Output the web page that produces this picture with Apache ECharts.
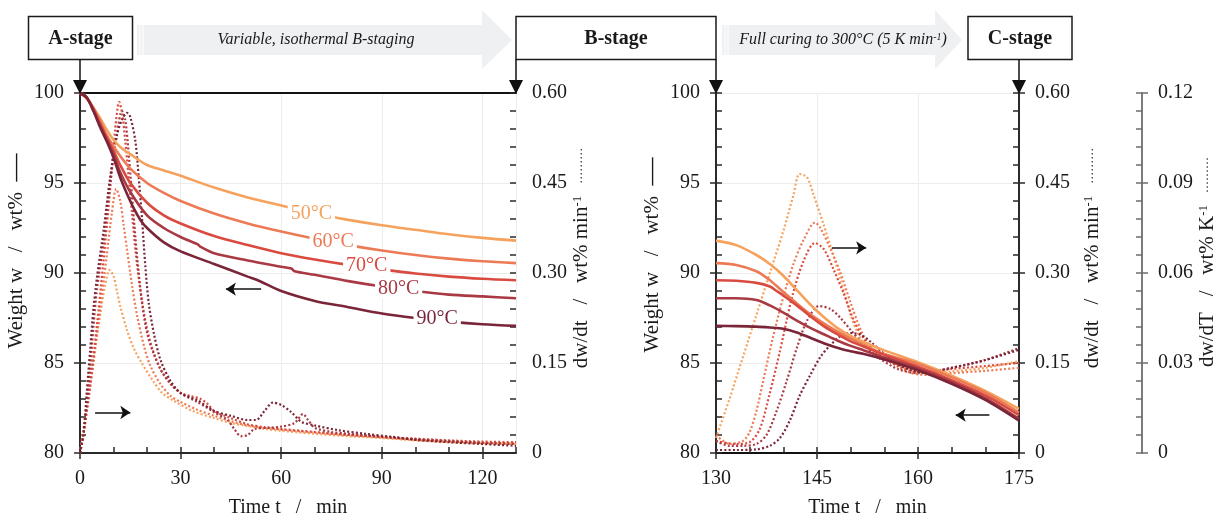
<!DOCTYPE html>
<html><head><meta charset="utf-8">
<script src="https://cdn.jsdelivr.net/npm/echarts@6/dist/echarts.min.js"></script>
<style>html,body{margin:0;padding:0;background:#fff}#c{width:1223px;height:518px}</style>
</head><body><div id="c"></div>
<script>
// ---------------- DATA ----------------
const temps = ['50°C', '60°C', '70°C', '80°C', '90°C'];
const colors = ['#F5A25D', '#EC7A55', '#D94B40', '#A93943', '#7A2538'];

// Panel 1 (isothermal B-staging): weight w [wt%] vs time t [min]
const w50L = [[0,100],[2,99.7],[4,99.2],[6,98.6],[8,97.95],[10,97.4],[12,97.0],[15,96.6],[20,96.0],[25,95.7],[30,95.4],[40,94.75],[50,94.2],[60,93.75],[70,93.3],[80,92.95],[90,92.65],[100,92.4],[110,92.15],[120,91.95],[130,91.8]];
const w60L = [[0,100],[2,99.7],[4,99.15],[6,98.45],[8,97.65],[10,97.05],[12,96.5],[15,95.8],[20,95.0],[25,94.45],[30,94.0],[40,93.3],[50,92.75],[60,92.3],[70,91.9],[80,91.55],[90,91.25],[100,91.0],[110,90.8],[120,90.65],[130,90.55]];
const w70L = [[0,100],[2,99.75],[4,99.1],[6,98.3],[8,97.5],[10,96.8],[12,96.0],[15,95.0],[20,93.9],[25,93.2],[30,92.75],[40,92.05],[50,91.55],[60,91.1],[70,90.75],[80,90.45],[90,90.2],[100,89.97],[110,89.8],[120,89.68],[130,89.6]];
const w80L = [[0,100],[2,99.75],[4,99.05],[6,98.2],[8,97.4],[10,96.6],[12,95.6],[15,94.5],[20,93.2],[25,92.5],[30,92.0],[35,91.6],[36,91.45],[40,91.1],[50,90.7],[60,90.35],[63,90.25],[64,90.1],[70,89.9],[80,89.55],[90,89.25],[100,89.0],[110,88.8],[120,88.7],[130,88.6]];
const w90L = [[0,100],[2,99.75],[4,99.0],[6,98.1],[8,97.3],[10,96.4],[12,95.3],[14,94.4],[16,93.6],[18,92.95],[20,92.5],[25,91.7],[30,91.2],[40,90.5],[50,89.8],[53,89.6],[60,89.0],[70,88.45],[80,88.1],[90,87.75],[100,87.5],[110,87.3],[120,87.15],[130,87.06]];

// Panel 1: mass-loss rate dw/dt [wt% min-1] vs time t [min]
const r50L = [[0,0],[1,0.04],[2,0.08],[4,0.16],[6,0.23],[7.5,0.28],[8.8,0.305],[10,0.295],[11,0.27],[12,0.245],[14,0.205],[16,0.175],[18.4,0.15],[21.8,0.12],[24.5,0.1],[27.7,0.088],[33.6,0.07],[40,0.058],[45,0.05],[50,0.045],[55,0.04],[60,0.037],[70,0.032],[80,0.028],[90,0.025],[100,0.021],[110,0.018],[120,0.016],[130,0.015]];
const r60L = [[0,0],[1,0.03],[2,0.07],[4,0.15],[6,0.24],[8,0.33],[9.5,0.4],[10.8,0.44],[12,0.42],[13,0.38],[14,0.34],[15.5,0.28],[17,0.23],[19,0.18],[21,0.145],[24,0.115],[27,0.095],[30,0.085],[35,0.072],[40,0.062],[45,0.053],[50,0.046],[60,0.039],[70,0.034],[80,0.03],[90,0.026],[100,0.022],[110,0.019],[120,0.017],[130,0.016]];
const r70L = [[0,0],[1,0.03],[3,0.11],[5,0.21],[7,0.32],[9,0.44],[10.5,0.54],[11.7,0.585],[12.6,0.565],[13.5,0.52],[14.5,0.46],[15.5,0.4],[16.5,0.34],[17.8,0.28],[19.5,0.22],[21.5,0.175],[24,0.14],[27,0.115],[30,0.1],[33,0.095],[36,0.09],[38,0.082],[40,0.07],[45,0.058],[50,0.048],[55,0.043],[60,0.04],[70,0.035],[80,0.03],[90,0.027],[100,0.024],[110,0.021],[120,0.019],[130,0.018]];
const r80L = [[0,0],[1,0.03],[2,0.08],[3,0.14],[4,0.21],[5,0.27],[7,0.35],[9,0.45],[11,0.53],[12.5,0.57],[13.5,0.555],[14.5,0.5],[15.5,0.43],[16.5,0.36],[17.5,0.3],[18.5,0.25],[20,0.2],[22,0.165],[25,0.13],[30,0.1],[35,0.085],[40,0.068],[44,0.055],[46,0.04],[48,0.028],[50,0.03],[52,0.04],[56,0.042],[60,0.044],[64,0.05],[66.5,0.065],[68,0.055],[70,0.042],[75,0.035],[80,0.032],[90,0.027],[100,0.023],[110,0.02],[120,0.017],[130,0.015]];
const r90L = [[0,0],[1,0.03],[2,0.1],[3,0.17],[4,0.24],[5,0.29],[7,0.37],[9,0.46],[11,0.53],[12.5,0.555],[14,0.567],[15,0.56],[16.5,0.52],[17.5,0.46],[18.5,0.39],[19.5,0.31],[20.5,0.25],[22,0.2],[24,0.155],[27,0.12],[30,0.1],[35,0.088],[40,0.07],[45,0.062],[50,0.055],[52.5,0.055],[55,0.07],[57.5,0.084],[60,0.08],[63,0.068],[66,0.052],[70,0.046],[77,0.038],[85,0.032],[93,0.027],[100,0.022],[110,0.018],[120,0.015],[130,0.012]];

// Panel 2 (full curing): weight w [wt%] vs time t [min]
const w50R = [[130,91.8],[133,91.55],[136,91.0],[138,90.5],[140,89.85],[142,89.05],[144,88.25],[146,87.55],[148,86.95],[150,86.5],[152,86.15],[155,85.7],[160,85.05],[165,84.3],[170,83.45],[175,82.45]];
const w60R = [[130,90.55],[133,90.45],[136,90.1],[138,89.6],[140,88.95],[142,88.3],[144,87.7],[146,87.2],[148,86.75],[150,86.35],[152,86.0],[155,85.5],[160,84.95],[165,84.2],[170,83.35],[175,82.25]];
const w70R = [[130,89.6],[133,89.57],[136,89.45],[138,89.25],[139,89.0],[140,88.75],[142,88.2],[144,87.6],[146,87.05],[148,86.6],[150,86.2],[152,85.9],[155,85.45],[160,84.8],[165,84.05],[170,83.2],[175,82.1]];
const w80R = [[130,88.6],[133,88.6],[136,88.5],[138,88.2],[140,87.8],[142,87.35],[144,86.95],[146,86.6],[148,86.25],[150,85.95],[152,85.7],[155,85.3],[160,84.7],[165,83.95],[170,83.05],[175,81.9]];
const w90R = [[130,87.06],[133,87.05],[136,87.02],[138,86.97],[140,86.9],[142,86.7],[144,86.4],[146,86.1],[148,85.85],[150,85.65],[152,85.5],[155,85.2],[160,84.6],[165,83.85],[170,82.95],[175,81.8]];

// Panel 2: mass-loss rate dw/dt [wt% min-1] vs time t [min]
const r50R = [[130,0.025],[132,0.09],[134,0.16],[136,0.23],[138,0.3],[140,0.37],[141.5,0.43],[142.4,0.465],[143.5,0.46],[144.5,0.43],[146,0.38],[147,0.345],[148.5,0.29],[150,0.23],[151.5,0.19],[153,0.17],[155.5,0.155],[158.5,0.14],[161.5,0.133],[165,0.136],[170,0.142],[175,0.153]];
const r60R = [[130,0.03],[132,0.015],[134,0.02],[135,0.035],[136,0.07],[137,0.12],[138.4,0.19],[140,0.26],[141.5,0.315],[143,0.355],[144.7,0.384],[145.5,0.375],[147,0.34],[148.5,0.3],[150,0.25],[151.5,0.205],[153,0.175],[155.5,0.155],[158.5,0.135],[161.5,0.13],[165,0.133],[170,0.137],[175,0.142]];
const r70R = [[130,0.02],[133,0.015],[135,0.018],[136.5,0.04],[138,0.1],[139.5,0.17],[141.3,0.26],[143,0.32],[144.7,0.35],[146,0.34],[147.5,0.305],[149,0.265],[150.5,0.22],[152,0.19],[154,0.165],[157,0.145],[160,0.135],[165,0.14],[170,0.145],[175,0.15]];
const r80R = [[130,0.02],[132,0.012],[134,0.012],[136,0.015],[137.5,0.03],[139,0.07],[140.5,0.12],[142,0.175],[143.5,0.22],[145.3,0.245],[147,0.24],[148.5,0.225],[150,0.205],[152,0.18],[154,0.16],[157,0.14],[160,0.133],[165,0.142],[170,0.155],[175,0.175]];
const r90R = [[130,0.005],[133,0.005],[136,0.006],[138,0.012],[139.5,0.025],[141,0.055],[142.4,0.095],[144,0.13],[145.5,0.16],[147,0.18],[148.5,0.195],[150,0.2],[151.5,0.197],[153,0.185],[155,0.165],[157,0.148],[159,0.138],[161,0.134],[165,0.142],[170,0.155],[175,0.172]];

// Axis ticks / ranges
const xTicks1 = [0, 30, 60, 90, 120];       // min 0, max 130, step 30
const xTicks2 = [130, 145, 160, 175];       // step 15
const wTicks = [80, 85, 90, 95, 100];
const rateTicks = ['0', '0.15', '0.30', '0.45', '0.60'];
const rateTTicks = ['0', '0.03', '0.06', '0.09', '0.12'];

// Curve label anchors (t, w) in panel 1
const labelAnchors = [[69, 93.3], [75.5, 91.75], [85.5, 90.4], [95, 89.15], [106.5, 87.45]];

const wL = [w50L, w60L, w70L, w80L, w90L];
const rL = [r50L, r60L, r70L, r80L, r90L];
const wR = [w50R, w60R, w70R, w80R, w90R];
const rR = [r50R, r60R, r70R, r80R, r90R];

// ---------------- CHART ----------------
const FONT = 'Liberation Serif';
const TXT = '#1a1a1a';
const AX = '#2a2a2a';
const chart = echarts.init(document.getElementById('c'), null, { renderer: 'canvas' });

function fmtRate(v) { return v === 0 ? '0' : v.toFixed(2); }

function xMain(grid, min, max, interval, showMax, namePad) {
  return { gridIndex: grid, type: 'value', position: 'bottom', min, max, interval,
    axisLine: { show: true, lineStyle: { color: AX, width: 2 } },
    axisTick: { show: true, inside: false, length: 6, lineStyle: { color: AX, width: 1.5 } },
    axisLabel: { fontFamily: FONT, fontSize: 20, color: TXT, margin: 16, showMaxLabel: showMax },
    splitLine: { show: true, lineStyle: { color: '#ececec', width: 1 } },
    name: 'Time t   /   min', nameLocation: 'middle', nameGap: 45,
    nameTextStyle: { fontFamily: FONT, fontSize: 20, color: TXT, padding: namePad } };
}
function xIn(grid, min, max, interval) {
  return { gridIndex: grid, type: 'value', position: 'bottom', min, max, interval,
    axisLine: { show: false }, axisLabel: { show: false }, splitLine: { show: false },
    axisTick: { show: true, inside: true, length: 6, lineStyle: { color: AX, width: 1.5 } },
    minorTick: { show: true, splitNumber: 3, length: 6, lineStyle: { color: AX, width: 1.5 } } };
}
function xTop(grid, min, max) {
  return { gridIndex: grid, type: 'value', position: 'top', min, max,
    axisLine: { show: true, lineStyle: { color: '#111', width: 2 } },
    axisTick: { show: false }, axisLabel: { show: false }, splitLine: { show: false } };
}
function yMain(grid, pos, min, max, interval, opts) {
  return Object.assign({ gridIndex: grid, type: 'value', position: pos, min, max, interval,
    axisLine: { show: true, lineStyle: { color: AX, width: 2 } },
    axisTick: { show: true, inside: false, length: 6, lineStyle: { color: AX, width: 1.5 } },
    axisLabel: { fontFamily: FONT, fontSize: 20, color: TXT, margin: 16 },
    splitLine: { show: false },
    nameLocation: 'middle', nameRotate: 90,
    nameTextStyle: { fontFamily: FONT, fontSize: 21, color: TXT } }, opts || {});
}
function yIn(grid, pos, min, max, interval, offset, color) {
  return { gridIndex: grid, type: 'value', position: pos, min, max, interval, offset: offset || 0,
    axisLine: { show: false }, axisLabel: { show: false }, splitLine: { show: false },
    axisTick: { show: true, inside: true, length: 6, lineStyle: { color: color || AX, width: 1.5 } },
    minorTick: { show: true, splitNumber: 5, length: 6, lineStyle: { color: color || AX, width: 1.5 } } };
}

const weightName = '{a|Weight w   /   wt%  }{l|—}';
const rateName = '{a|dw/dt   /   wt% min}{s|-1}{d|    ·········}';
const rateTName = '{a|dw/dT   /   wt% K}{s|-1}{d|    ·········}';
const nameRich = {
  a: { fontFamily: FONT, fontSize: 21, color: TXT },
  s: { fontFamily: FONT, fontSize: 13, color: TXT, verticalAlign: 'top', lineHeight: 20 },
  d: { fontFamily: FONT, fontSize: 12, color: TXT },
  l: { fontFamily: FONT, fontSize: 28, color: TXT }
};
function nameStyle(shiftUp) { return { rich: nameRich, padding: [0, 0, 0, shiftUp * 2] }; }

const xAxis = [
  xMain(0, 0, 130, 30, false, [0, 20, 0, 0]), xIn(0, 0, 130, 30), xTop(0, 0, 130),
  xMain(1, 130, 175, 15, true, 0), xIn(1, 130, 175, 15), xTop(1, 130, 175)
];
const yAxis = [
  yMain(0, 'left', 80, 100, 5, { name: weightName, nameGap: 44, nameTextStyle: nameStyle(22),
    splitLine: { show: true, lineStyle: { color: '#ececec' } } }),
  yIn(0, 'left', 80, 100, 5),
  yMain(0, 'right', 0, 0.6, 0.15, { name: rateName, nameGap: 52, nameTextStyle: nameStyle(15),
    axisLabel: { fontFamily: FONT, fontSize: 20, color: TXT, margin: 16, formatter: fmtRate } }),
  yIn(0, 'right', 0, 0.6, 0.15),
  yMain(1, 'left', 80, 100, 5, { name: weightName, nameGap: 39, nameTextStyle: nameStyle(18),
    splitLine: { show: true, lineStyle: { color: '#ececec' } } }),
  yIn(1, 'left', 80, 100, 5),
  yMain(1, 'right', 0, 0.6, 0.15, { name: rateName, nameGap: 63, nameTextStyle: nameStyle(15),
    axisLabel: { fontFamily: FONT, fontSize: 20, color: TXT, margin: 16, formatter: fmtRate } }),
  yIn(1, 'right', 0, 0.6, 0.15),
  yMain(1, 'right', 0, 0.12, 0.03, { offset: 123, name: rateTName, nameGap: 55, nameTextStyle: nameStyle(11),
    axisLine: { show: true, lineStyle: { color: '#6e6e6e', width: 1.8 } },
    axisTick: { show: true, inside: false, length: 6, lineStyle: { color: '#6e6e6e', width: 1.5 } },
    axisLabel: { fontFamily: FONT, fontSize: 20, color: TXT, margin: 16, formatter: fmtRate } }),
  yIn(1, 'right', 0, 0.12, 0.03, 123, '#6e6e6e')
];

const series = [];
const dotted = { type: [2, 2.2], width: 2.2, cap: 'butt' };
for (let i = 0; i < 5; i++) {
  series.push({ name: temps[i] + ' w', type: 'line', xAxisIndex: 0, yAxisIndex: 0, data: wL[i],
    showSymbol: false, smooth: 0.3, lineStyle: { color: colors[i], width: 2.6 }, z: 4,
    markPoint: { silent: true, symbol: 'rect', symbolSize: 0, data: [{ coord: labelAnchors[i],
      label: { show: true, formatter: temps[i], position: 'inside', fontFamily: FONT, fontSize: 20,
        color: colors[i], backgroundColor: '#fff', padding: [1, 3, 0, 3] } }] } });
  series.push({ name: temps[i] + ' r', type: 'line', xAxisIndex: 0, yAxisIndex: 2, data: rL[i],
    showSymbol: false, smooth: 0.3, lineStyle: Object.assign({ color: colors[i] }, dotted), z: 3 });
  series.push({ name: temps[i] + ' wR', type: 'line', xAxisIndex: 3, yAxisIndex: 4, data: wR[i],
    showSymbol: false, smooth: 0.3, lineStyle: { color: colors[i], width: 2.6 }, z: 4 });
  series.push({ name: temps[i] + ' rR', type: 'line', xAxisIndex: 3, yAxisIndex: 6, data: rR[i],
    showSymbol: false, smooth: 0.3, lineStyle: Object.assign({ color: colors[i] }, dotted), z: 3 });
}
// direction arrows (which axis each curve set belongs to)
const arrowStyle = { silent: true, symbol: ['none', 'arrow'], symbolSize: 10, label: { show: false },
  lineStyle: { color: '#111', width: 1.6, type: 'solid' }, animation: false };
series.push({ type: 'line', xAxisIndex: 0, yAxisIndex: 0, data: [], markLine: Object.assign({}, arrowStyle, { data: [
  [{ coord: [54, 89.1] }, { coord: [43.5, 89.1] }],
  [{ coord: [4.5, 82.25] }, { coord: [15, 82.25] }] ] }) });
series.push({ type: 'line', xAxisIndex: 3, yAxisIndex: 4, data: [], markLine: Object.assign({}, arrowStyle, { data: [
  [{ coord: [147.2, 91.4] }, { coord: [152.3, 91.4] }],
  [{ coord: [170.6, 82.1] }, { coord: [165.6, 82.1] }] ] }) });

// ---------------- HEADER (layout graphics) ----------------
const g = [];
function box(x, w, label) {
  g.push({ type: 'rect', shape: { x: x, y: 16.5, width: w, height: 43 }, style: { fill: '#fff', stroke: '#1a1a1a', lineWidth: 1.5 }, z: 10 });
  g.push({ type: 'text', x: x + w / 2, y: 39, style: { text: label, font: 'bold 20px "Liberation Serif"', fill: TXT, align: 'center', verticalAlign: 'middle', textAlign: 'center', textVerticalAlign: 'middle' }, z: 11 });
}
function down(x) {
  g.push({ type: 'line', shape: { x1: x, y1: 59.5, x2: x, y2: 82 }, style: { stroke: '#111', lineWidth: 1.5 }, z: 10 });
  g.push({ type: 'polygon', shape: { points: [[x - 7, 80], [x + 7, 80], [x, 94]] }, style: { fill: '#111' }, z: 10 });
}
function bigArrow(x0, xh, xt) {
  g.push({ type: 'polygon', shape: { points: [[x0, 25], [xh, 25], [xh, 10], [xt, 40], [xh, 69], [xh, 55], [x0, 55]] }, style: { fill: '#eef0f2' }, z: 5 });
  [x0 + 3, x0 + 6].forEach(function (xx) {
    g.push({ type: 'line', shape: { x1: xx, y1: 25, x2: xx, y2: 55 }, style: { stroke: '#fff', lineWidth: 1 }, z: 6 });
  });
}
bigArrow(137, 482, 512);
bigArrow(722, 935, 962);
g.push({ type: 'text', x: 316, y: 40, style: { text: 'Variable, isothermal B-staging', font: 'italic 16px "Liberation Serif"', fill: TXT, align: 'center', verticalAlign: 'middle', textAlign: 'center', textVerticalAlign: 'middle' }, z: 7 });
g.push({ type: 'text', x: 843, y: 40, style: { text: '{i|Full curing to 300°C (5 K min}{s|-1}{i|)}', rich: {
  i: { font: 'italic 16px "Liberation Serif"', fill: TXT, fontFamily: FONT, fontStyle: 'italic', fontSize: 16 },
  s: { fontFamily: FONT, fontStyle: 'italic', fontSize: 10, fill: TXT, verticalAlign: 'top' } },
  align: 'center', verticalAlign: 'middle', textAlign: 'center', textVerticalAlign: 'middle' }, z: 7 });
box(28.5, 104, 'A-stage');
box(516, 200, 'B-stage');
box(968, 104, 'C-stage');
down(80); down(516); down(716); down(1019);

chart.setOption({
  animation: false,
  backgroundColor: '#fff',
  grid: [
    { left: 80, top: 93, width: 436, height: 360, containLabel: false, outerBoundsMode: 'none' },
    { left: 716, top: 93, width: 303, height: 360, containLabel: false, outerBoundsMode: 'none' }
  ],
  xAxis, yAxis, series, graphic: g
});
</script>
</body></html>
